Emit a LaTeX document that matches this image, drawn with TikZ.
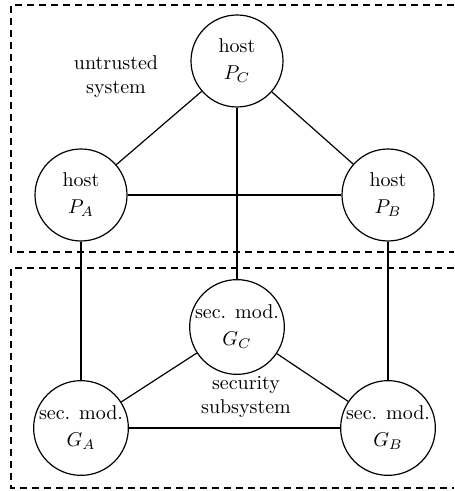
\documentclass[tikz,border=0pt]{standalone}
\begin{document}
\begin{tikzpicture}[x=0.5pt,y=-0.5pt,
  unit/.style={circle,draw,line width=0.6pt,minimum size=46pt,inner sep=0pt,align=center,font=\normalsize},
  link/.style={line width=0.6pt},
  zone/.style={dashed,line width=0.6pt,dash pattern=on 3.5pt off 2.5pt},
  lbl/.style={align=center,inner sep=0pt}]
\useasboundingbox (0,0) rectangle (454,491);
\draw[zone] (454,5) -- (11,5) -- (11,252) -- (454,252);
\draw[zone] (454,268) -- (11,268) -- (11,488) -- (454,488);
\node[unit] (PC) at (237,61) {host\\[1.5pt]$P_C$};
\node[unit] (PA) at (81,195) {host\\[1.5pt]$P_A$};
\node[unit] (PB) at (388,195) {host\\[1.5pt]$P_B$};
\node[unit] (GC) at (237,327) {sec. mod.\\[1.5pt]$G_C$};
\node[unit] (GA) at (81,428) {sec. mod.\\[1.5pt]$G_A$};
\node[unit] (GB) at (388,428) {sec. mod.\\[1.5pt]$G_B$};
\node[lbl] (ut) at (116,77) {untrusted\\system};
\node[lbl] (ss) at (246,397) {security\\subsystem};
\draw[link] (PA) -- (PC);
\draw[link] (PC) -- (PB);
\draw[link] (PA) -- (PB);
\draw[link] (PC) -- (GC);
\draw[link] (PA) -- (GA);
\draw[link] (PB) -- (GB);
\draw[link] (GA) -- (GC);
\draw[link] (GC) -- (GB);
\draw[link] (GA) -- (GB);
\end{tikzpicture}
\end{document}
